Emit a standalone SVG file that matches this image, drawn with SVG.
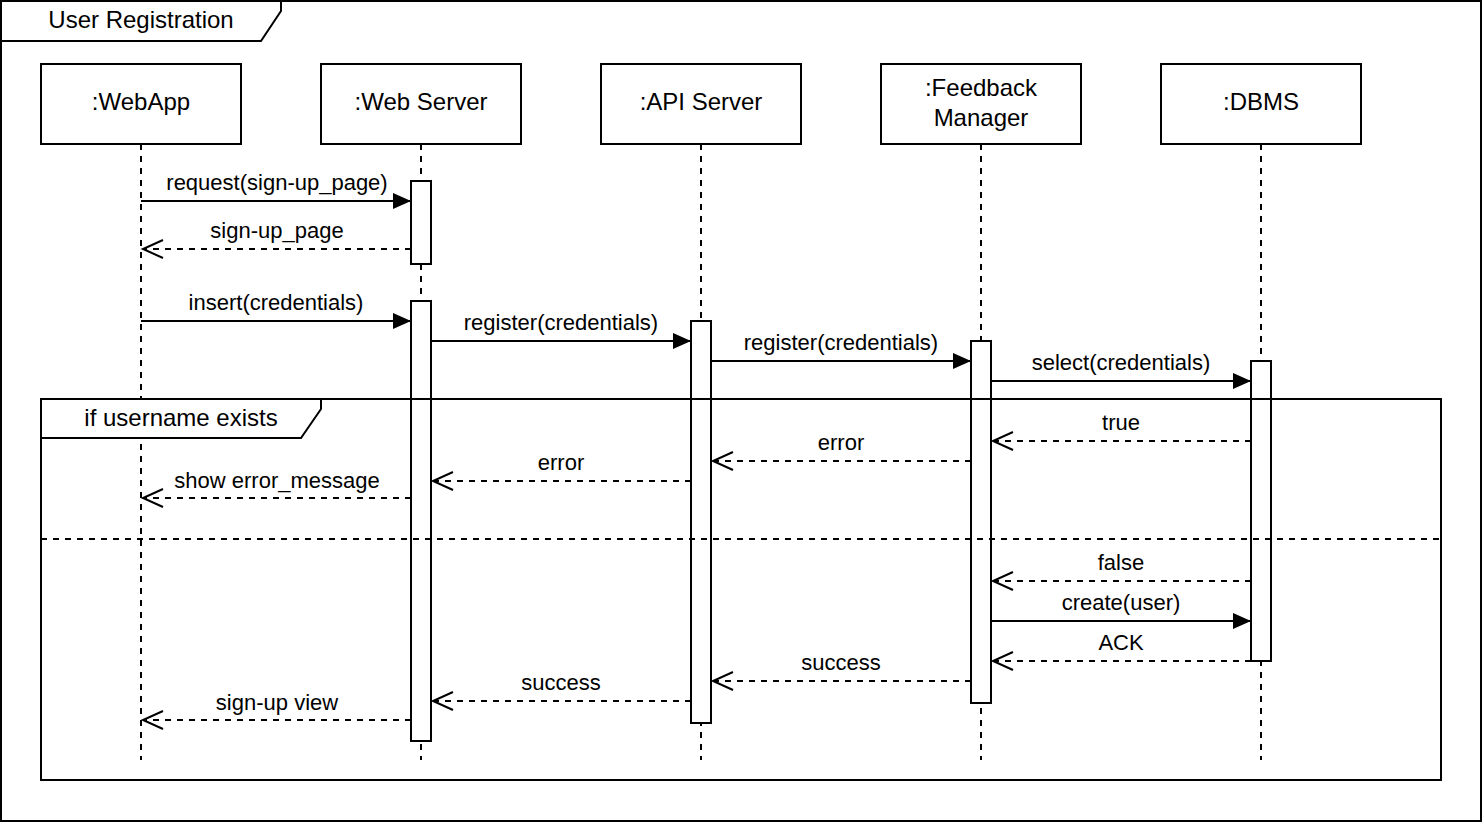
<svg xmlns="http://www.w3.org/2000/svg" width="1482" height="822" viewBox="0 0 1482 822">
<style>
text{font-family:"Liberation Sans",Arial,sans-serif;fill:#000;text-anchor:middle}
.lbl{font-size:24px}
.msg{font-size:22px}
.box{fill:#fff;stroke:#000;stroke-width:2}
.life{stroke:#000;stroke-width:2;stroke-dasharray:6 6;fill:none}
.sync{stroke:#000;stroke-width:2;fill:none;marker-end:url(#filled)}
.ret{stroke:#000;stroke-width:2;fill:none;stroke-dasharray:6 6;marker-end:url(#open)}
.frame{fill:none;stroke:#000;stroke-width:2}
</style>
<defs>
<marker id="filled" viewBox="0 0 18 16" refX="18" refY="8" markerWidth="18" markerHeight="16" markerUnits="userSpaceOnUse" orient="auto">
<path d="M0,0 L18,8 L0,16 Z" fill="#000"/>
</marker>
<marker id="open" viewBox="0 0 24 22" refX="22" refY="11" markerWidth="24" markerHeight="22" markerUnits="userSpaceOnUse" orient="auto" overflow="visible">
<path d="M2,2 L22,11 L2,20" fill="none" stroke="#000" stroke-width="2"/>
</marker>
</defs>
<rect x="0" y="0" width="1482" height="822" fill="#fff"/>

<g id="outer-frame">
<rect class="frame" x="1" y="1" width="1480" height="820"/>
<path d="M1,1 L281,1 L281,11 L261,41 L1,41 Z" fill="#fff" stroke="#000" stroke-width="2"/>
<text class="lbl" x="141" y="28">User Registration</text>
</g>

<g id="lifelines">
<line class="life" x1="141" y1="144" x2="141" y2="760"/>
<line class="life" x1="421" y1="144" x2="421" y2="760"/>
<line class="life" x1="701" y1="144" x2="701" y2="760"/>
<line class="life" x1="981" y1="144" x2="981" y2="760"/>
<line class="life" x1="1261" y1="144" x2="1261" y2="760"/>
</g>

<g id="webapp">
<rect class="box" x="41" y="64" width="200" height="80"/>
<text class="lbl" x="141" y="110">:WebApp</text>
</g>
<g id="webserver">
<rect class="box" x="321" y="64" width="200" height="80"/>
<text class="lbl" x="421" y="110">:Web Server</text>
<rect class="box" x="411" y="181" width="20" height="83"/>
<rect class="box" x="411" y="301" width="20" height="440"/>
</g>
<g id="apiserver">
<rect class="box" x="601" y="64" width="200" height="80"/>
<text class="lbl" x="701" y="110">:API Server</text>
<rect class="box" x="691" y="321" width="20" height="402"/>
</g>
<g id="feedbackmanager">
<rect class="box" x="881" y="64" width="200" height="80"/>
<text class="lbl" x="981" y="96">:Feedback</text>
<text class="lbl" x="981" y="126">Manager</text>
<rect class="box" x="971" y="341" width="20" height="362"/>
</g>
<g id="dbms">
<rect class="box" x="1161" y="64" width="200" height="80"/>
<text class="lbl" x="1261" y="110">:DBMS</text>
<rect class="box" x="1251" y="361" width="20" height="300"/>
</g>

<g id="connectors">
<line class="sync" x1="141" y1="201" x2="411" y2="201"/>
<line class="ret" x1="411" y1="249" x2="143" y2="249"/>
<line class="sync" x1="141" y1="321" x2="411" y2="321"/>
<line class="sync" x1="431" y1="341" x2="691" y2="341"/>
<line class="sync" x1="711" y1="361" x2="971" y2="361"/>
<line class="sync" x1="991" y1="381" x2="1251" y2="381"/>
<line class="ret" x1="1251" y1="441" x2="993" y2="441"/>
<line class="ret" x1="971" y1="461" x2="713" y2="461"/>
<line class="ret" x1="691" y1="481" x2="433" y2="481"/>
<line class="ret" x1="411" y1="498" x2="143" y2="498"/>
<line class="ret" x1="1251" y1="581" x2="993" y2="581"/>
<line class="sync" x1="991" y1="621" x2="1251" y2="621"/>
<line class="ret" x1="1251" y1="661" x2="993" y2="661"/>
<line class="ret" x1="971" y1="681" x2="713" y2="681"/>
<line class="ret" x1="691" y1="701" x2="433" y2="701"/>
<line class="ret" x1="411" y1="720" x2="143" y2="720"/>
<text class="msg" x="277" y="190">request(sign-up_page)</text>
<text class="msg" x="277" y="238">sign-up_page</text>
<text class="msg" x="276" y="310">insert(credentials)</text>
<text class="msg" x="561" y="330">register(credentials)</text>
<text class="msg" x="841" y="350">register(credentials)</text>
<text class="msg" x="1121" y="370">select(credentials)</text>
<text class="msg" x="1121" y="430">true</text>
<text class="msg" x="841" y="450">error</text>
<text class="msg" x="561" y="470">error</text>
<text class="msg" x="277" y="488">show error_message</text>
<text class="msg" x="1121" y="570">false</text>
<text class="msg" x="1121" y="610">create(user)</text>
<text class="msg" x="1121" y="650">ACK</text>
<text class="msg" x="841" y="670">success</text>
<text class="msg" x="561" y="690">success</text>
<text class="msg" x="277" y="710">sign-up view</text>
</g>

<g id="alt-frame">
<rect class="frame" x="41" y="399" width="1400" height="381"/>
<path d="M41,399 L321,399 L321,409 L301,438 L41,438 Z" fill="#fff" stroke="#000" stroke-width="2"/>
<text class="lbl" x="181" y="426">if username exists</text>
<line x1="41" y1="539" x2="1441" y2="539" stroke="#000" stroke-width="2" stroke-dasharray="6 6"/>
</g>
</svg>
